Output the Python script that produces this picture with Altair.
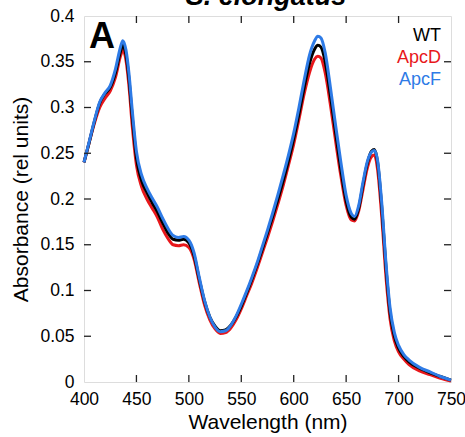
import altair as alt
import pandas as pd

wavelength = [400,405,410,415,420,425,430,435,437,440,443,446,450,455,460,465,470,475,480,485,490,495,500,505,510,515,520,525,530,535,540,545,550,555,560,565,570,575,580,585,590,595,600,605,610,615,620,623,626,630,635,640,645,650,655,658,662,666,670,674,677,680,684,688,692,696,700,705,710,720,730,740,750]

wt = [0.240,0.262,0.285,0.305,0.315,0.322,0.338,0.362,0.368,0.358,0.330,0.290,0.245,0.220,0.207,0.196,0.186,0.174,0.163,0.156,0.155,0.156,0.152,0.138,0.112,0.088,0.071,0.061,0.056,0.057,0.062,0.071,0.083,0.097,0.112,0.128,0.145,0.163,0.181,0.200,0.220,0.242,0.266,0.293,0.322,0.348,0.364,0.368,0.366,0.350,0.313,0.272,0.232,0.198,0.180,0.178,0.190,0.215,0.238,0.252,0.254,0.240,0.190,0.125,0.075,0.050,0.037,0.028,0.022,0.015,0.010,0.006,0.002]

apcd = [0.240,0.262,0.283,0.300,0.310,0.318,0.333,0.357,0.363,0.352,0.322,0.280,0.237,0.213,0.200,0.190,0.180,0.167,0.157,0.150,0.149,0.150,0.147,0.134,0.108,0.084,0.068,0.058,0.053,0.054,0.059,0.068,0.080,0.094,0.108,0.124,0.141,0.158,0.176,0.195,0.215,0.237,0.260,0.287,0.315,0.338,0.353,0.356,0.354,0.338,0.303,0.263,0.225,0.193,0.177,0.176,0.187,0.210,0.233,0.246,0.248,0.232,0.180,0.115,0.068,0.045,0.033,0.025,0.019,0.012,0.008,0.004,0.001]

apcf = [0.240,0.263,0.286,0.306,0.316,0.324,0.342,0.367,0.373,0.363,0.336,0.297,0.252,0.226,0.212,0.201,0.191,0.179,0.168,0.160,0.158,0.159,0.155,0.141,0.114,0.089,0.071,0.060,0.055,0.056,0.062,0.072,0.085,0.099,0.114,0.130,0.148,0.166,0.185,0.205,0.226,0.248,0.272,0.300,0.330,0.357,0.373,0.378,0.376,0.360,0.322,0.280,0.240,0.204,0.184,0.181,0.193,0.218,0.240,0.251,0.253,0.242,0.195,0.130,0.080,0.054,0.040,0.030,0.024,0.016,0.011,0.006,0.002]

series_names = ["WT", "ApcD", "ApcF"]
series_colors = ["#000000", "#e8171b", "#2e7be6"]
x_ticks = [400, 450, 500, 550, 600, 650, 700, 750]
y_ticks = [0, 0.05, 0.1, 0.15, 0.2, 0.25, 0.3, 0.35, 0.4]
inner_x_ticks = x_ticks[1:-1]
inner_y_ticks = y_ticks[1:-1]

FONT = "Liberation Sans"
W, H = 367, 366

xs = alt.Scale(domain=[400, 750], nice=False, zero=False)
ys = alt.Scale(domain=[0, 0.4], nice=False)

frames = {
    "WT": pd.DataFrame({"wl": wavelength, "abs": wt}),
    "ApcD": pd.DataFrame({"wl": wavelength, "abs": apcd}),
    "ApcF": pd.DataFrame({"wl": wavelength, "abs": apcf}),
}

x_axis = alt.Axis(values=x_ticks, tickSize=0, domain=False, grid=False,
                  labelFlush=False, labelOverlap=False,
                  labelFontSize=17.5, labelFont=FONT, labelColor="#000", labelPadding=8,
                  title="Wavelength (nm)", titleFontSize=21, titleFont=FONT,
                  titleFontWeight="normal", titleColor="#000", titlePadding=4)
y_axis = alt.Axis(values=y_ticks, tickSize=0, domain=False, grid=False, format=".2~f",
                  labelFlush=False, labelOverlap=False,
                  labelFontSize=17.5, labelFont=FONT, labelColor="#000", labelPadding=10,
                  title="Absorbance (rel units)", titleFontSize=21, titleFont=FONT,
                  titleFontWeight="normal", titleColor="#000", titlePadding=8)

layers = []
for name in ["ApcD", "WT", "ApcF"]:
    color = series_colors[series_names.index(name)]
    layers.append(
        alt.Chart(frames[name]).mark_line(color=color, strokeWidth=3, interpolate="monotone")
        .encode(x=alt.X("wl:Q", scale=xs, axis=x_axis),
                y=alt.Y("abs:Q", scale=ys, axis=y_axis))
    )

xt = pd.DataFrame({"v": inner_x_ticks})
yt = pd.DataFrame({"v": inner_y_ticks})
TL = 7
tick_color = "#222"
bottom_ticks = alt.Chart(xt).mark_rule(color=tick_color, strokeWidth=1.3).encode(
    x=alt.X("v:Q", scale=xs, axis=x_axis), y=alt.value(H), y2=alt.value(H - TL))
top_ticks = alt.Chart(xt).mark_rule(color=tick_color, strokeWidth=1.3).encode(
    x=alt.X("v:Q", scale=xs, axis=x_axis), y=alt.value(0), y2=alt.value(TL))
left_ticks = alt.Chart(yt).mark_rule(color=tick_color, strokeWidth=1.3).encode(
    y=alt.Y("v:Q", scale=ys, axis=y_axis), x=alt.value(0), x2=alt.value(TL))
right_ticks = alt.Chart(yt).mark_rule(color=tick_color, strokeWidth=1.3).encode(
    y=alt.Y("v:Q", scale=ys, axis=y_axis), x=alt.value(W), x2=alt.value(W - TL))

legend_layers = []
for i, (name, color) in enumerate(zip(series_names, series_colors)):
    legend_layers.append(
        alt.Chart(pd.DataFrame({"t": [name]})).mark_text(
            font=FONT, fontSize=18, color=color, align="right", baseline="alphabetic"
        ).encode(text="t:N", x=alt.value(W - 10), y=alt.value(25 + i * 22))
    )

panel_label = alt.Chart(pd.DataFrame({"t": ["A"]})).mark_text(
    font=FONT, fontSize=36, fontWeight="bold", color="#000", align="left", baseline="alphabetic"
).encode(text="t:N", x=alt.value(5), y=alt.value(32))

title_text = alt.Chart(pd.DataFrame({"t": ["S. elongatus"]})).mark_text(
    font=FONT, fontSize=27, fontWeight="bold", fontStyle="italic", color="#000",
    align="center", baseline="alphabetic"
).encode(text="t:N", x=alt.value(182), y=alt.value(-11))

chart = alt.layer(
    *layers, bottom_ticks, top_ticks, left_ticks, right_ticks,
    *legend_layers, panel_label, title_text
).properties(
    width=W, height=H,
    autosize=alt.AutoSizeParams(type="none"),
    padding={"left": 84, "top": 16, "right": 14, "bottom": 55},
).configure_view(stroke="#222", strokeWidth=1.5).configure(background="white")

chart.save("out.html", embed_options={"renderer": "svg", "actions": False})
